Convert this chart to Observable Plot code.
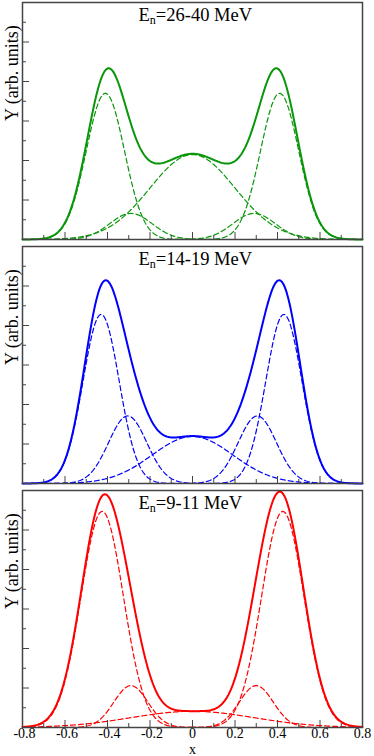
<!DOCTYPE html>
<html>
<head>
<meta charset="utf-8">
<script src="https://cdn.jsdelivr.net/npm/d3@7"></script>
<script src="https://cdn.jsdelivr.net/npm/@observablehq/plot@0.6"></script>
<style>
  html, body { margin: 0; padding: 0; background: #fff; }
  #chart { position: relative; width: 374px; height: 756px; overflow: hidden; }
  #chart svg { position: absolute; left: 0; }
</style>
</head>
<body>
<div id="chart"></div>
<script>
// ---- data ----
const energyLabels = ["26-40", "14-19", "9-11"];
const panelColors = ["#0a960a", "#0000ff", "#ff0000"];

// Gaussian components of each panel (centre, amplitude, width)
const centers1 = [-0.41, -0.29, 0, 0.29, 0.41];
const amps1    = [3.70, 0.66, 2.15, 0.66, 3.70];
const sigmas1  = [0.09, 0.10, 0.20, 0.10, 0.09];

const centers2 = [-0.43, -0.305, 0, 0.305, 0.43];
const amps2    = [4.28, 1.71, 1.19, 1.71, 4.28];
const sigmas2  = [0.085, 0.09, 0.19, 0.09, 0.085];

const centers3 = [-0.425, -0.29, 0, 0.30, 0.425];
const amps3    = [5.47, 1.06, 0.41, 1.06, 5.47];
const sigmas3  = [0.10, 0.08, 0.29, 0.08, 0.10];

const xMajorTicks = [-0.8, -0.6, -0.4, -0.2, 0, 0.2, 0.4, 0.6, 0.8];
const xMinorTicks = [-0.7, -0.5, -0.3, -0.1, 0.1, 0.3, 0.5, 0.7];
const yMajorTicks = [1, 2, 3, 4, 5];
const yMinorTicks = [0.5, 1.5, 2.5, 3.5, 4.5, 5.5];
const xLabel = "x";
const yLabel = "Y (arb. units)";

// ---- build ----
const components = [
  {c: centers1, a: amps1, s: sigmas1},
  {c: centers2, a: amps2, s: sigmas2},
  {c: centers3, a: amps3, s: sigmas3}
];
const xs = d3.range(-0.8, 0.8 + 1e-9, 0.004);
const font = "'Liberation Serif', 'Times New Roman', serif";
const W = 374, ML = 22, MR = 12, PH = 237;
const PW = W - ML - MR;
const tops = [0, 244, 488];

const chart = document.getElementById("chart");

components.forEach((p, i) => {
  const dashed = [];
  p.c.forEach((c, j) => {
    xs.forEach(x => dashed.push({x, y: p.a[j] * Math.exp(-((x - c) ** 2) / (2 * p.s[j] ** 2)), comp: j}));
  });
  const total = xs.map(x => ({
    x,
    y: d3.sum(p.c, (c, j) => p.a[j] * Math.exp(-((x - c) ** 2) / (2 * p.s[j] ** 2)))
  }));
  const last = i === 2;
  const mb = last ? 29 : 2;
  const color = panelColors[i];
  const marks = [
    Plot.line(dashed, {x: "x", y: "y", z: "comp", stroke: color, strokeWidth: 1.2, strokeDasharray: "5,3"}),
    Plot.line(total, {x: "x", y: "y", stroke: color, strokeWidth: 2}),
    // inward ticks
    Plot.tickY(yMajorTicks, {y: d => d, stroke: "#444", strokeWidth: 1, insetRight: PW - 7}),
    Plot.tickY(yMinorTicks, {y: d => d, stroke: "#444", strokeWidth: 1, insetRight: PW - 4}),
    Plot.tickX(xMajorTicks, {x: d => d, stroke: "#444", strokeWidth: 1, insetTop: PH - 7}),
    Plot.tickX(xMinorTicks, {x: d => d, stroke: "#444", strokeWidth: 1, insetTop: PH - 4}),
    Plot.frame({stroke: "#444", strokeWidth: 1.5}),
    Plot.text([`En=${energyLabels[i]} MeV`], {
      frameAnchor: "top-left", dx: 116, dy: 18, lineAnchor: "bottom", textAnchor: "start",
      fontSize: 18.5, fill: "#000", text: d => d
    }),
    Plot.text([yLabel], {
      frameAnchor: "left", dx: -10, rotate: -90, fontSize: 18, fill: "#000", text: d => d
    })
  ];
  if (last) {
    marks.push(
      Plot.axisX(xMajorTicks.filter(d => d < 0), {
        tickSize: 0, tickPadding: 1, fontSize: 14, dx: 2, fill: "#000",
        tickFormat: d => d.toFixed(1), label: null
      }),
      Plot.axisX(xMajorTicks.filter(d => d >= 0), {
        tickSize: 0, tickPadding: 1, fontSize: 14, fill: "#000",
        tickFormat: d => Math.abs(d) < 1e-9 ? "0" : d.toFixed(1), label: null
      }),
      Plot.text([xLabel], {frameAnchor: "bottom", dy: 22.5, lineAnchor: "middle", fontSize: 14, fill: "#000", text: d => d})
    );
  }
  const svg = Plot.plot({
    width: W, height: 2 + PH + mb,
    marginLeft: ML, marginRight: MR, marginTop: 2, marginBottom: mb,
    x: {domain: [-0.8, 0.8], axis: null},
    y: {domain: [0, 6], axis: null},
    style: {fontFamily: font, background: "white", overflow: "visible"},
    marks
  });
  svg.style.top = tops[i] + "px";
  // subscript n in the energy label
  svg.querySelectorAll("text").forEach(t => {
    const s = t.textContent;
    if (s.startsWith("En=")) {
      while (t.firstChild) t.removeChild(t.firstChild);
      const ns = "http://www.w3.org/2000/svg";
      const a = document.createElementNS(ns, "tspan"); a.textContent = "E";
      const b = document.createElementNS(ns, "tspan"); b.textContent = "n";
      b.setAttribute("font-size", "12"); b.setAttribute("dy", "3");
      const c = document.createElementNS(ns, "tspan"); c.textContent = s.slice(2);
      c.setAttribute("dy", "-3");
      t.append(a, b, c);
    }
  });
  chart.appendChild(svg);
});
</script>
</body>
</html>
